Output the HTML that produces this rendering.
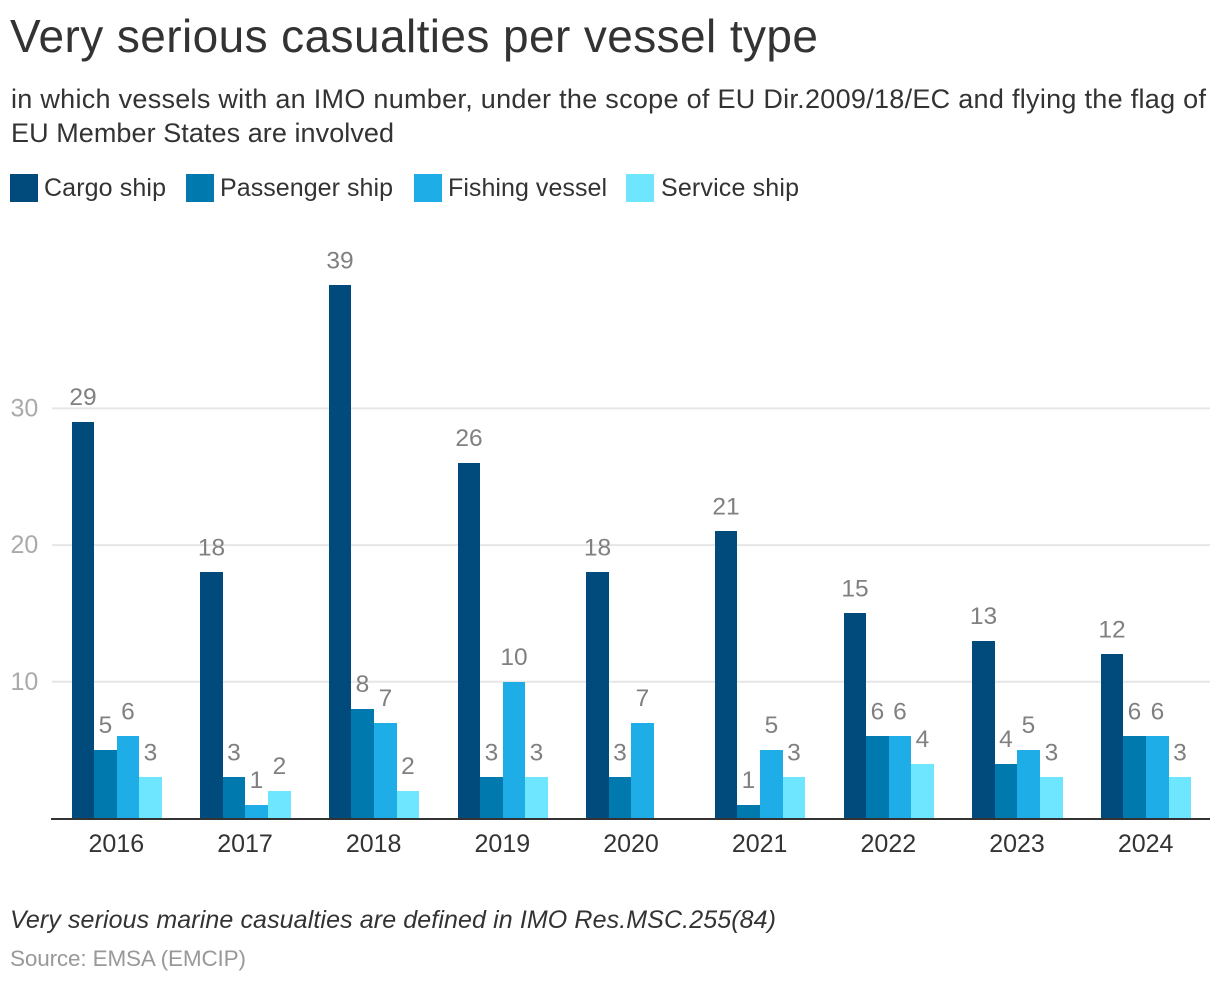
<!DOCTYPE html>
<html lang="en">
<head>
<meta charset="utf-8">
<title>Very serious casualties per vessel type</title>
<style>
  html, body { margin: 0; padding: 0; background: #fff; }
  svg { display: block; font-family: "Liberation Sans", sans-serif; }
</style>
</head>
<body>
<svg id="chart" width="1220" height="984" viewBox="0 0 1220 984" xmlns="http://www.w3.org/2000/svg">
  <rect x="0" y="0" width="1220" height="984" fill="#ffffff"/>
  <text x="10" y="52" font-size="46" fill="#333333" textLength="808" lengthAdjust="spacing">Very serious casualties per vessel type</text>
  <text x="11" y="108" font-size="27" fill="#333333" textLength="1195" lengthAdjust="spacing">in which vessels with an IMO number, under the scope of EU Dir.2009/18/EC and flying the flag of</text>
  <text x="11" y="142" font-size="27" fill="#333333" textLength="383" lengthAdjust="spacing">EU Member States are involved</text>

  <g>
    <g>
      <rect x="10" y="174" width="28" height="28" fill="#004b7c"/>
      <text x="44" y="196" font-size="25" fill="#333333" textLength="122" lengthAdjust="spacing">Cargo ship</text>
    </g>
    <g>
      <rect x="186" y="174" width="28" height="28" fill="#0079ae"/>
      <text x="220" y="196" font-size="25" fill="#333333" textLength="173" lengthAdjust="spacing">Passenger ship</text>
    </g>
    <g>
      <rect x="414" y="174" width="28" height="28" fill="#1fade8"/>
      <text x="448" y="196" font-size="25" fill="#333333" textLength="159" lengthAdjust="spacing">Fishing vessel</text>
    </g>
    <g>
      <rect x="626" y="174" width="28" height="28" fill="#6fe6ff"/>
      <text x="661" y="196" font-size="25" fill="#333333" textLength="138" lengthAdjust="spacing">Service ship</text>
    </g>
  </g>

  <g id="grid"></g>
  <g id="bars"></g>
  <g id="labels"></g>
  <g id="xaxis"></g>

  <text x="10" y="928" font-size="25" font-style="italic" fill="#333333" textLength="766" lengthAdjust="spacing">Very serious marine casualties are defined in IMO Res.MSC.255(84)</text>
  <text x="10" y="966" font-size="22.5" fill="#999999" textLength="236" lengthAdjust="spacing">Source: EMSA (EMCIP)</text>
</svg>
<script>
const years = ['2016', '2017', '2018', '2019', '2020', '2021', '2022', '2023', '2024'];
const cargoShip = [29, 18, 39, 26, 18, 21, 15, 13, 12];
const passengerShip = [5, 3, 8, 3, 3, 1, 6, 4, 6];
const fishingVessel = [6, 1, 7, 10, 7, 5, 6, 5, 6];
const serviceShip = [3, 2, 2, 3, 0, 3, 4, 3, 3];
const yTicks = [10, 20, 30];

const NS = 'http://www.w3.org/2000/svg';
const seriesList = [
  { key: 'cargo-ship', values: cargoShip, color: '#004b7c' },
  { key: 'passenger-ship', values: passengerShip, color: '#0079ae' },
  { key: 'fishing-vessel', values: fishingVessel, color: '#1fade8' },
  { key: 'service-ship', values: serviceShip, color: '#6fe6ff' }
];

const plotLeft = 52;
const plotRight = 1210;
const plotBottom = 818.5;
const unitHeight = 13.67;
const band = (plotRight - plotLeft) / years.length;
const barWidth = 22.6;

function yScale(v) { return plotBottom - v * unitHeight; }
function bandCenter(i) { return plotLeft + band * i + band / 2; }
function barEdge(i, s) { return Math.round(bandCenter(i) + 0.4 - barWidth * seriesList.length / 2 + barWidth * s); }

function setAttrs(el, attrs) {
  Object.keys(attrs).forEach(function (k) { el.setAttribute(k, attrs[k]); });
}

const gridG = document.getElementById('grid');
const barsG = document.getElementById('bars');
const labelsG = document.getElementById('labels');
const xG = document.getElementById('xaxis');

yTicks.forEach(function (t) {
  const line = document.createElementNS(NS, 'line');
  
  
  setAttrs(line, { x1: plotLeft, x2: plotRight, y1: yScale(t), y2: yScale(t), stroke: '#e6e6e6', 'stroke-width': 2 });
  gridG.appendChild(line);

  const label = document.createElementNS(NS, 'text');
  
  
  setAttrs(label, { x: 10.5, y: yScale(t) + 8, 'font-size': 25, fill: '#aaaaaa' });
  label.textContent = String(t);
  gridG.appendChild(label);
});

seriesList.forEach(function (series, s) {
  series.values.forEach(function (v, i) {
    if (v === 0) return;
    const left = barEdge(i, s);
    const right = barEdge(i, s + 1);
    const top = Math.round(yScale(v));
    const bar = document.createElementNS(NS, 'rect');
    
    
    setAttrs(bar, { x: left, y: top, width: right - left, height: 818 - top, fill: series.color });
    barsG.appendChild(bar);

    const label = document.createElementNS(NS, 'text');
    
    
    setAttrs(label, { x: (left + right) / 2, y: yScale(v) - 17, 'font-size': 24.5, fill: '#808080', 'text-anchor': 'middle' });
    label.textContent = String(v);
    labelsG.appendChild(label);
  });
});

const axisLine = document.createElementNS(NS, 'line');


setAttrs(axisLine, { x1: 51, x2: plotRight, y1: 819, y2: 819, stroke: '#333333', 'stroke-width': 2 });
xG.appendChild(axisLine);

years.forEach(function (yr, i) {
  const label = document.createElementNS(NS, 'text');
  
  
  setAttrs(label, { x: bandCenter(i), y: 852, 'font-size': 25, fill: '#333333', 'text-anchor': 'middle' });
  label.textContent = yr;
  xG.appendChild(label);
});
</script>
</body>
</html>
